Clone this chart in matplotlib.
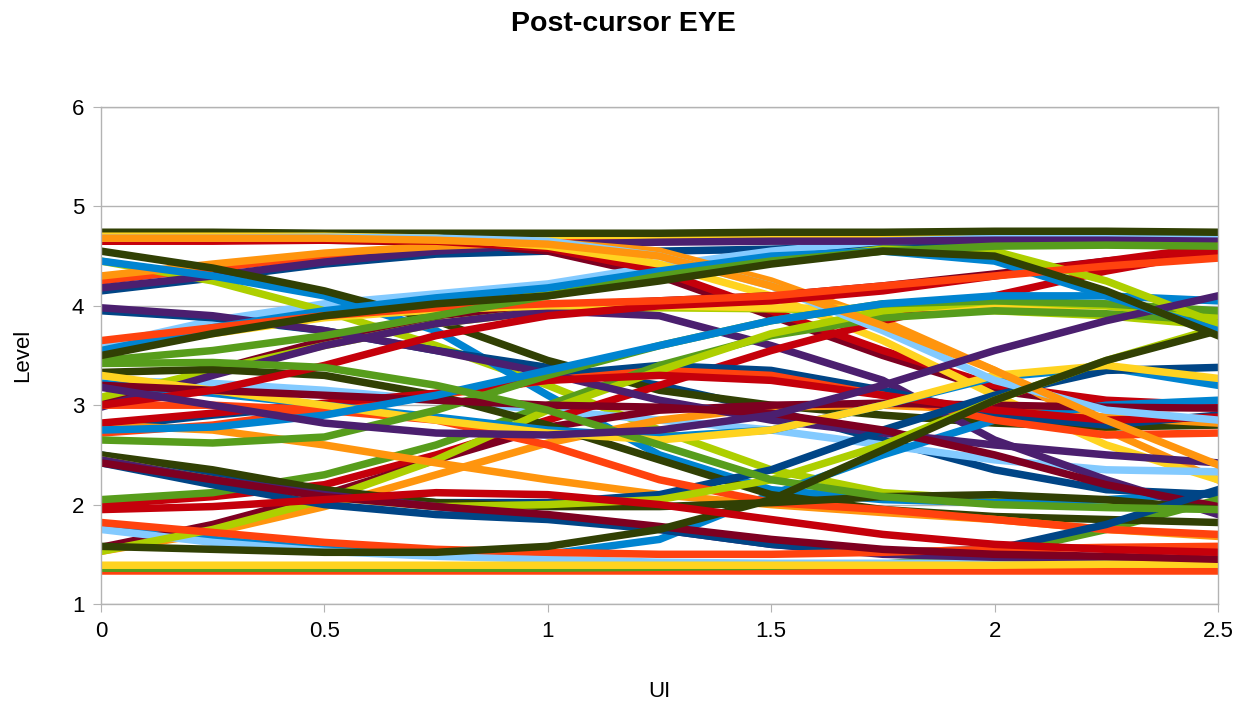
import numpy as np
import matplotlib.pyplot as plt

plt.rcParams['font.family'] = ['Liberation Sans', 'DejaVu Sans']

# UI sample points (every 0.25 UI)
ui = [0, 0.25, 0.5, 0.75, 1.0, 1.25, 1.5, 1.75, 2.0, 2.25, 2.5]

# traces grouped by series colour
dark_blue = [
    [4.15, 4.28, 4.42, 4.52, 4.55, 4.55, 4.57, 4.60, 4.62, 4.63, 4.62],
    [3.95, 3.88, 3.75, 3.55, 3.38, 3.20, 2.95, 2.65, 2.35, 2.15, 2.10],
    [2.78, 2.90, 3.00, 3.10, 3.30, 3.40, 3.35, 3.15, 2.90, 2.80, 2.90],
    [2.50, 2.30, 2.12, 2.02, 2.02, 2.10, 2.35, 2.75, 3.10, 3.35, 3.38],
    [2.42, 2.20, 2.00, 1.90, 1.85, 1.75, 1.60, 1.52, 1.55, 1.80, 2.15],
]
orange_red = [
    [4.25, 4.38, 4.50, 4.58, 4.63, 4.65, 4.66, 4.66, 4.66, 4.67, 4.66],
    [1.33, 1.33, 1.33, 1.33, 1.33, 1.33, 1.33, 1.33, 1.33, 1.33, 1.33],
    [2.72, 2.80, 2.95, 3.10, 3.25, 3.35, 3.30, 3.10, 2.85, 2.70, 2.72],
    [3.00, 3.00, 2.95, 2.85, 2.60, 2.25, 2.02, 1.95, 1.85, 1.75, 1.70],
    [1.82, 1.72, 1.62, 1.55, 1.52, 1.50, 1.50, 1.52, 1.55, 1.57, 1.58],
    [3.65, 3.78, 3.90, 3.98, 4.02, 4.05, 4.10, 4.20, 4.30, 4.40, 4.48],
]
yellow = [
    [4.72, 4.72, 4.71, 4.71, 4.71, 4.71, 4.72, 4.72, 4.72, 4.72, 4.71],
    [4.70, 4.70, 4.70, 4.68, 4.60, 4.42, 4.10, 3.65, 3.10, 2.60, 2.25],
    [3.55, 3.72, 3.88, 3.96, 4.00, 4.00, 3.98, 3.97, 4.00, 4.00, 3.85],
    [3.30, 3.15, 3.00, 2.85, 2.72, 2.65, 2.75, 3.00, 3.30, 3.40, 3.27],
    [1.39, 1.39, 1.39, 1.39, 1.39, 1.39, 1.39, 1.39, 1.39, 1.40, 1.40],
]
green = [
    [1.35, 1.35, 1.35, 1.35, 1.35, 1.35, 1.35, 1.35, 1.36, 1.36, 1.36],
    [1.36, 1.36, 1.36, 1.36, 1.36, 1.37, 1.38, 1.40, 1.50, 1.75, 2.05],
    [2.05, 2.12, 2.30, 2.60, 3.00, 3.40, 3.70, 3.88, 3.95, 3.92, 3.85],
    [2.65, 2.62, 2.68, 2.95, 3.30, 3.60, 3.85, 4.02, 4.05, 4.02, 3.95],
    [3.42, 3.43, 3.38, 3.20, 2.95, 2.60, 2.25, 2.08, 2.00, 1.97, 1.95],
    [3.45, 3.55, 3.70, 3.90, 4.10, 4.30, 4.45, 4.55, 4.60, 4.61, 4.60],
]
maroon = [
    [4.65, 4.66, 4.66, 4.64, 4.55, 4.30, 3.90, 3.50, 3.15, 3.00, 2.98],
    [3.02, 3.35, 3.65, 3.90, 4.00, 4.05, 4.10, 4.20, 4.32, 4.45, 4.55],
    [1.57, 1.80, 2.10, 2.45, 2.78, 2.95, 3.00, 3.02, 3.00, 2.98, 2.97],
    [3.20, 3.15, 3.10, 3.05, 3.00, 2.98, 2.92, 2.75, 2.50, 2.20, 1.98],
    [2.42, 2.25, 2.08, 1.98, 1.90, 1.78, 1.65, 1.55, 1.50, 1.48, 1.45],
]
light_blue = [
    [3.60, 3.85, 4.02, 4.12, 4.22, 4.40, 4.55, 4.65, 4.68, 4.70, 4.67],
    [3.25, 3.22, 3.15, 3.05, 2.95, 2.85, 2.75, 2.60, 2.45, 2.35, 2.33],
    [1.75, 1.62, 1.53, 1.48, 1.45, 1.42, 1.41, 1.41, 1.41, 1.42, 1.43],
    [4.68, 4.68, 4.69, 4.68, 4.65, 4.50, 4.20, 3.75, 3.25, 2.95, 2.85],
]
olive = [
    [4.74, 4.74, 4.73, 4.73, 4.73, 4.73, 4.74, 4.74, 4.75, 4.75, 4.74],
    [4.55, 4.38, 4.15, 3.85, 3.45, 3.15, 3.00, 2.90, 2.82, 2.78, 2.80],
    [3.33, 3.36, 3.30, 3.10, 2.80, 2.45, 2.10, 1.95, 1.88, 1.85, 1.82],
    [2.50, 2.35, 2.15, 2.02, 1.98, 1.98, 2.02, 2.08, 2.10, 2.05, 1.95],
    [1.58, 1.55, 1.52, 1.52, 1.58, 1.75, 2.05, 2.55, 3.05, 3.45, 3.75],
    [3.50, 3.72, 3.90, 4.02, 4.10, 4.25, 4.42, 4.55, 4.50, 4.15, 3.70],
]
yellow_green = [
    [4.45, 4.25, 3.95, 3.60, 3.20, 2.75, 2.35, 2.12, 2.05, 2.00, 1.98],
    [3.08, 3.35, 3.60, 3.82, 3.95, 3.98, 3.97, 3.95, 3.95, 3.90, 3.80],
    [1.53, 1.75, 2.05, 2.45, 2.95, 3.35, 3.72, 3.95, 4.05, 4.00, 3.90],
    [2.45, 2.25, 2.08, 1.98, 2.00, 2.05, 2.25, 2.60, 3.05, 3.45, 3.78],
    [3.52, 3.75, 3.92, 4.05, 4.15, 4.30, 4.45, 4.57, 4.55, 4.25, 3.82],
]
purple = [
    [4.18, 4.30, 4.44, 4.55, 4.62, 4.64, 4.65, 4.65, 4.66, 4.66, 4.65],
    [2.98, 3.30, 3.60, 3.82, 3.95, 3.90, 3.60, 3.25, 2.65, 2.25, 1.90],
    [3.98, 3.90, 3.75, 3.55, 3.32, 3.05, 2.85, 2.72, 2.60, 2.50, 2.42],
    [2.45, 2.25, 2.10, 1.98, 1.88, 1.75, 1.60, 1.50, 1.47, 1.45, 1.45],
    [3.18, 3.00, 2.82, 2.72, 2.70, 2.75, 2.90, 3.20, 3.55, 3.85, 4.10],
]
orange = [
    [4.30, 4.42, 4.53, 4.60, 4.64, 4.55, 4.25, 3.85, 3.35, 2.75, 2.25],
    [1.53, 1.72, 1.98, 2.30, 2.62, 2.85, 2.98, 3.00, 2.95, 2.88, 2.82],
    [2.80, 2.75, 2.60, 2.42, 2.25, 2.10, 2.00, 1.92, 1.85, 1.75, 1.68],
    [4.68, 4.68, 4.68, 4.66, 4.62, 4.50, 4.20, 3.80, 3.35, 2.85, 2.40],
]
red = [
    [4.65, 4.65, 4.66, 4.65, 4.58, 4.35, 3.95, 3.55, 3.20, 3.05, 3.00],
    [2.00, 2.08, 2.20, 2.50, 2.85, 3.20, 3.55, 3.85, 4.10, 4.35, 4.55],
    [2.82, 2.92, 3.02, 3.12, 3.25, 3.30, 3.25, 3.10, 2.95, 2.85, 2.88],
    [3.00, 3.15, 3.40, 3.70, 3.90, 4.00, 4.05, 4.15, 4.30, 4.45, 4.60],
    [1.95, 1.98, 2.05, 2.12, 2.10, 2.00, 1.85, 1.70, 1.60, 1.55, 1.52],
]
blue = [
    [4.45, 4.30, 4.10, 3.75, 3.10, 2.50, 2.15, 2.05, 2.02, 2.05, 2.12],
    [1.80, 1.65, 1.55, 1.50, 1.50, 1.65, 2.10, 2.50, 2.85, 3.00, 3.05],
    [3.22, 3.12, 3.00, 2.88, 2.75, 2.68, 2.75, 3.00, 3.28, 3.38, 3.20],
    [2.75, 2.78, 2.90, 3.10, 3.35, 3.60, 3.85, 4.02, 4.10, 4.10, 4.05],
    [3.55, 3.78, 3.95, 4.08, 4.18, 4.35, 4.50, 4.55, 4.45, 4.10, 3.75],
]

series = [
    (dark_blue, "#004586"), (orange_red, "#ff420e"), (yellow, "#ffd320"),
    (green, "#579d1c"), (maroon, "#7e0021"), (light_blue, "#83caff"),
    (olive, "#314004"), (yellow_green, "#aecf00"), (purple, "#4b1f6f"),
    (orange, "#ff950e"), (red, "#c5000b"), (blue, "#0084d1"),
]

fig = plt.figure(figsize=(12.46, 7.04), dpi=100)
ax = fig.add_axes([101 / 1246, 1 - 604 / 704, 1117 / 1246, 497 / 704])

# draw series round-robin like the spreadsheet's colour cycle
n_max = max(len(s) for s, _ in series)
for i in range(n_max):
    for traces, col in series:
        if i < len(traces):
            ax.plot(ui, traces[i], color=col, lw=5.4, solid_joinstyle="round")

ax.set_xlim(0, 2.5)
ax.set_ylim(1, 6)
ax.set_xticks([0, 0.5, 1, 1.5, 2, 2.5])
ax.set_xticklabels(["0", "0.5", "1", "1.5", "2", "2.5"])
ax.set_yticks([1, 2, 3, 4, 5, 6])
ax.yaxis.grid(True, color="#b3b3b3", lw=1.0)
ax.set_axisbelow(True)
for sp in ax.spines.values():
    sp.set_color("#b3b3b3")
    sp.set_linewidth(1.0)
ax.tick_params(axis="both", direction="out", length=6, color="#b3b3b3",
               labelsize=16, pad=6)

ax.set_xlabel("UI", fontsize=16, labelpad=28)
ax.set_ylabel("Level", fontsize=16, labelpad=28)
fig.suptitle("Post-cursor EYE", fontsize=20.5, fontweight="bold", y=0.985)

fig.savefig("out.png", dpi=100)
